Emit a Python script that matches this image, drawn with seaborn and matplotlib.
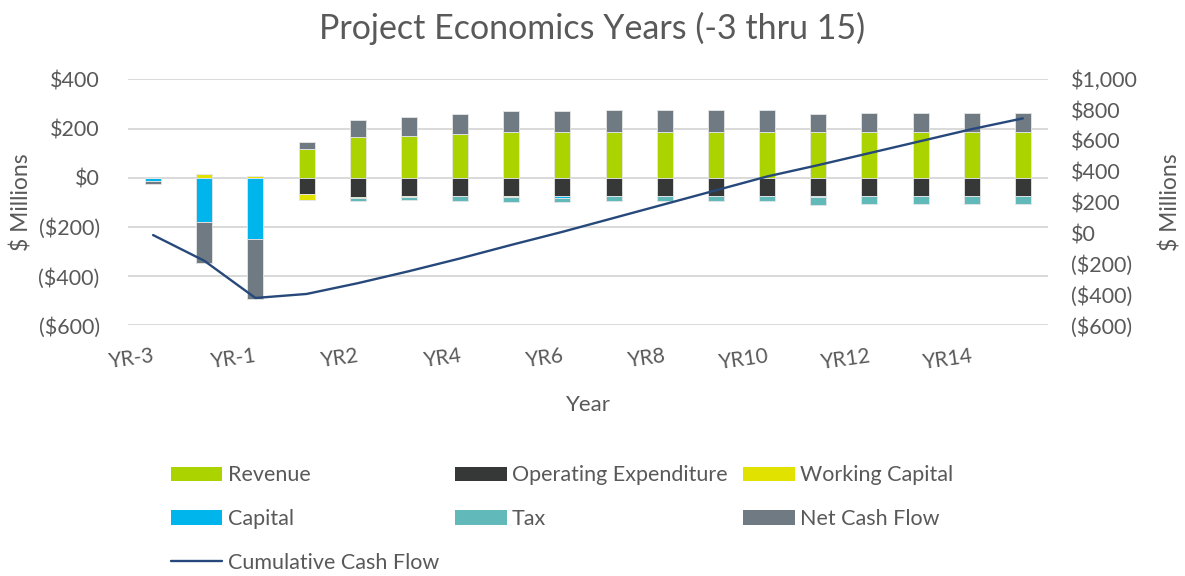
import numpy as np
import pandas as pd
import seaborn as sns
import matplotlib.pyplot as plt
from matplotlib.ticker import FuncFormatter, MultipleLocator
from matplotlib.patches import Patch
from matplotlib.lines import Line2D

# Data ($ millions)
years = ["YR-3", "YR-2", "YR-1", "YR1", "YR2", "YR3", "YR4", "YR5", "YR6",
         "YR7", "YR8", "YR9", "YR10", "YR11", "YR12", "YR13", "YR14", "YR15"]
revenue = [0, 0, 0, 118, 164, 170, 178, 185, 185, 186, 186, 186, 186, 186, 186, 186, 186, 186]
opex = [0, 0, 0, -66, -78, -76, -76, -76, -73, -74, -74, -74, -74, -74, -74, -74, -74, -74]
working_capital = [0, 15, 7, -24, -3, -1, 0, -1, 0, -1, 0, 0, 0, 0, -2, 0, 0, 0]
capital = [-13, -181, -250, 0, 0, 0, 0, 0, -9, 0, 0, 0, 0, -5, 0, 0, 0, 0]
tax = [0, 0, 0, -2, -13, -15, -19, -20, -18, -20, -20, -20, -20, -33, -32, -34, -34, -34]
net_cash_flow = [-13, -166, -243, 26, 70, 78, 83, 88, 85, 90, 90, 90, 90, 74, 78, 78, 78, 78]
cumulative = [-13, -180, -422, -396, -326, -248, -165, -77, 8, 98, 188, 278, 368, 442, 520, 598, 676, 746]

series = [
    ("Revenue", revenue, "#ABD300"),
    ("Operating Expenditure", opex, "#363838"),
    ("Working Capital", working_capital, "#E2E200"),
    ("Capital", capital, "#00B5EB"),
    ("Tax", tax, "#62B9BA"),
    ("Net Cash Flow", net_cash_flow, "#6F7A83"),
]
line_color = "#26487A"
text_color = "#595959"
grid_color = "#D9D9D9"


def money(v, pos=None):
    if v < 0:
        return f"(${abs(v):,.0f})"
    return f"${v:,.0f}"


sns.set_theme(style="white")
plt.rcParams["font.family"] = ["Lato", "DejaVu Sans"]
plt.rcParams["text.color"] = text_color
plt.rcParams["axes.labelcolor"] = text_color
plt.rcParams["xtick.color"] = text_color
plt.rcParams["ytick.color"] = text_color

fig = plt.figure(figsize=(11.85, 5.76), dpi=100)
ax = fig.add_axes([0.1076, 0.4352, 0.7772, 0.4271])

x = np.arange(len(years))
pos_bottom = np.zeros(len(years))
neg_bottom = np.zeros(len(years))
for name, vals, color in series:
    vals = np.array(vals, dtype=float)
    bottom = np.where(vals >= 0, pos_bottom, neg_bottom)
    ax.bar(x, vals, bottom=bottom, width=0.31, color=color,
           edgecolor="#E6E6E6", linewidth=0.6, zorder=2)
    pos_bottom = pos_bottom + np.where(vals > 0, vals, 0)
    neg_bottom = neg_bottom + np.where(vals < 0, vals, 0)

ax.set_xlim(-0.5, len(years) - 0.5)
ax.set_ylim(-600, 400)
ax.yaxis.set_major_locator(MultipleLocator(200))
ax.yaxis.set_major_formatter(FuncFormatter(money))
ax.grid(axis="y", color=grid_color, linewidth=1.4, zorder=0)
ax.set_axisbelow(True)
for s in ax.spines.values():
    s.set_visible(False)
ax.set_xticks(x[::2])
ax.set_xticklabels(years[::2], rotation=8, ha="right", va="top",
                   rotation_mode="anchor")
ax.tick_params(axis="x", length=0, pad=15, labelsize=15)
ax.tick_params(axis="y", length=0, pad=20, labelsize=15.5)
ax.set_xlabel("Year", fontsize=16, labelpad=16)
ax.set_ylabel("$ Millions", fontsize=16.5, labelpad=4)

ax2 = ax.twinx()
df_cum = pd.DataFrame({"x": x, "cum": cumulative})
sns.lineplot(data=df_cum, x="x", y="cum", ax=ax2, color=line_color,
             linewidth=1.7, zorder=3)
ax2.set_ylim(-600, 1000)
ax2.yaxis.set_major_locator(MultipleLocator(200))
ax2.yaxis.set_major_formatter(FuncFormatter(money))
ax2.tick_params(axis="y", length=0, pad=16, labelsize=15.5)
ax2.set_ylabel("$ Millions", fontsize=16.5, labelpad=16)
ax2.set_xlabel("")
for s in ax2.spines.values():
    s.set_visible(False)
ax2.grid(False)

fig.suptitle("Project Economics Years (-3 thru 15)", x=0.5, y=0.98,
             fontsize=24.5, color=text_color)

# Legend laid out in three equal-width columns, like the original
handles = {name: Patch(facecolor=color, edgecolor="none") for name, _, color in series}
handles["Cumulative Cash Flow"] = Line2D([0], [0], color=line_color, linewidth=1.7)
columns = [
    (["Revenue", "Capital", "Cumulative Cash Flow"], 0.144),
    (["Operating Expenditure", "Tax"], 0.384),
    (["Working Capital", "Net Cash Flow"], 0.627),
]
for names, xpos in columns:
    fig.legend([handles[n] for n in names], names, loc="upper left",
               bbox_to_anchor=(xpos, 0.192), frameon=False, fontsize=15.5,
               borderpad=0, borderaxespad=0, handlelength=2.4, handleheight=0.65,
               handletextpad=0.25, labelspacing=1.1, labelcolor=text_color)

fig.savefig("out.png", dpi=100)
